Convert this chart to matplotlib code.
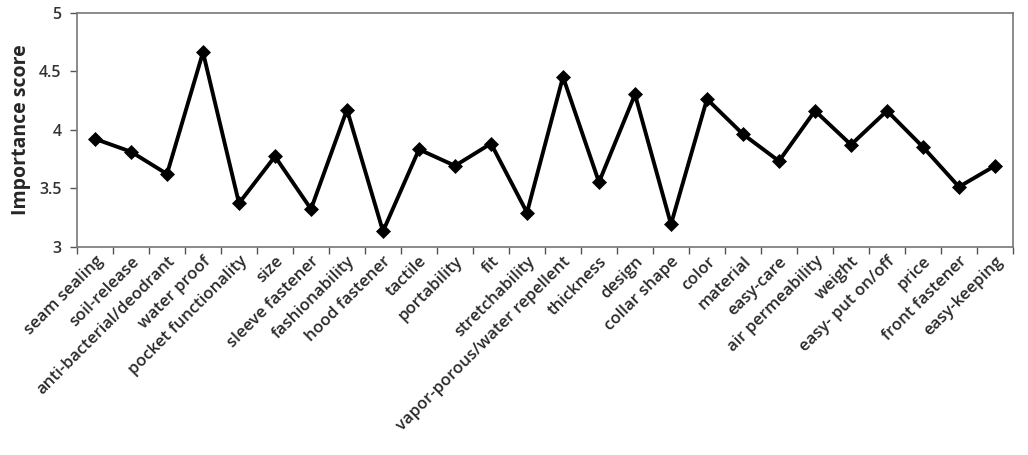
import matplotlib
matplotlib.use("Agg")
import matplotlib.pyplot as plt
from matplotlib.ticker import FixedLocator, NullFormatter

categories = ["seam sealing", "soil-release", "anti-bacterial/deodrant", "water proof",
              "pocket functionality", "size", "sleeve fastener", "fashionability",
              "hood fastener", "tactile", "portability", "fit", "stretchability",
              "vapor-porous/water repellent", "thickness", "design", "collar shape",
              "color", "material", "easy-care", "air permeability", "weight",
              "easy- put on/off", "price", "front fastener", "easy-keeping"]
scores = [3.92, 3.81, 3.62, 4.66, 3.37, 3.77, 3.32, 4.17, 3.13, 3.83, 3.69, 3.88, 3.29,
          4.45, 3.55, 4.30, 3.19, 4.26, 3.96, 3.73, 4.16, 3.87, 4.16, 3.85, 3.51, 3.69]
yticks = [3, 3.5, 4, 4.5, 5]
ytick_labels = ["3", "3.5", "4", "4.5", "5"]

plt.rcParams['font.family'] = ['Open Sans', 'DejaVu Sans']
fig = plt.figure(figsize=(10.28, 4.55), dpi=100)
ax = fig.add_axes([0.0749, 0.4582, 0.9105, 0.5143])

x = list(range(len(categories)))
ax.plot(x, scores, color='black', lw=2.8, marker='D', markersize=7.5, markeredgewidth=0.5)

ax.set_xlim(-0.5, len(categories) - 0.5)
ax.set_ylim(3, 5)
ax.set_yticks(yticks)
ax.set_yticklabels(ytick_labels, fontsize=11.5, color='#333333', fontweight='semibold')

ax.xaxis.set_major_locator(FixedLocator([i - 0.5 for i in range(len(categories) + 1)]))
ax.xaxis.set_major_formatter(NullFormatter())
ax.xaxis.set_minor_locator(FixedLocator(x))
ax.set_xticklabels(categories, minor=True, rotation=45, ha='right', rotation_mode='anchor',
                   fontsize=12, color='#2a2a2a', fontweight='semibold')
ax.tick_params(axis='x', which='minor', length=0, pad=5)
ax.tick_params(axis='x', which='major', length=5, width=1, color='#555555', direction='out')
ax.tick_params(axis='y', length=5, width=1, color='#555555', direction='out', pad=6)

for s in ax.spines.values():
    s.set_color('#777777')
    s.set_linewidth(1.2)

ax.set_ylabel("Importance score", fontsize=14, fontweight='bold', color='#262626', labelpad=6)

fig.savefig("out.png", dpi=100)
